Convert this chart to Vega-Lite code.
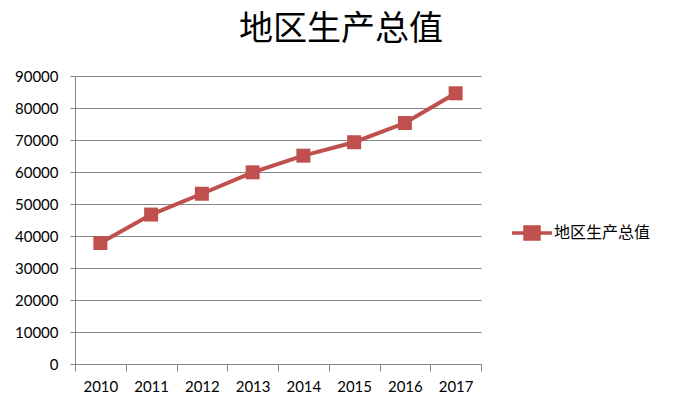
{
  "$schema": "https://vega.github.io/schema/vega-lite/v6.json",
  "width": 406,
  "height": 288,
  "autosize": {"type": "none"},
  "padding": {"left": 75, "top": 76, "right": 193, "bottom": 40},
  "background": "white",
  "title": {
    "text": "地区生产总值",
    "font": "Noto Sans CJK SC",
    "fontSize": 34,
    "fontWeight": "normal",
    "color": "#000000",
    "anchor": "middle",
    "frame": "group",
    "dx": 63,
    "baseline": "alphabetic",
    "offset": -5
  },
  "data": {
    "values": [
      {"year": "2010", "series": "地区生产总值", "value": 37800},
      {"year": "2011", "series": "地区生产总值", "value": 46700},
      {"year": "2012", "series": "地区生产总值", "value": 53200},
      {"year": "2013", "series": "地区生产总值", "value": 59900},
      {"year": "2014", "series": "地区生产总值", "value": 65100},
      {"year": "2015", "series": "地区生产总值", "value": 69300},
      {"year": "2016", "series": "地区生产总值", "value": 75300},
      {"year": "2017", "series": "地区生产总值", "value": 84600}
    ]
  },
  "encoding": {
    "x": {
      "field": "year",
      "type": "ordinal",
      "scale": {"paddingInner": 0, "paddingOuter": 0},
      "axis": {
        "title": null,
        "labelAngle": 0,
        "tickBand": "extent",
        "tickSize": 7,
        "tickColor": "#868686",
        "domainColor": "#868686",
        "labelPadding": 8,
        "labelFont": "Lato",
        "labelFontSize": 15,
        "labelColor": "#000000",
        "grid": false
      }
    },
    "y": {
      "field": "value",
      "type": "quantitative",
      "scale": {"domain": [0, 90000], "nice": false},
      "axis": {
        "title": null,
        "values": [0, 10000, 20000, 30000, 40000, 50000, 60000, 70000, 80000, 90000],
        "format": "d",
        "tickSize": 5,
        "tickColor": "#868686",
        "domainColor": "#868686",
        "gridColor": "#868686",
        "labelPadding": 12,
        "labelFont": "Lato",
        "labelFontSize": 15,
        "labelColor": "#000000"
      }
    },
    "color": {
      "field": "series",
      "type": "nominal",
      "scale": {"range": ["#C0504D"]},
      "legend": {
        "title": null,
        "orient": "none",
        "legendX": 435,
        "legendY": 135,
        "symbolType": "M-1,0H1M-0.35,-0.3H0.35V0.3H-0.35Z",
        "symbolSize": 1600,
        "symbolStrokeWidth": 3.5,
        "symbolFillColor": "#C0504D",
        "symbolStrokeColor": "#C0504D",
        "labelFont": "Noto Sans CJK SC",
        "labelFontSize": 16,
        "labelColor": "#000000",
        "labelOffset": 0
      }
    }
  },
  "layer": [
    {"mark": {"type": "line", "strokeWidth": 4}},
    {"mark": {"type": "point", "shape": "square", "filled": true, "size": 196, "opacity": 1}}
  ],
  "config": {"view": {"stroke": null}}
}
